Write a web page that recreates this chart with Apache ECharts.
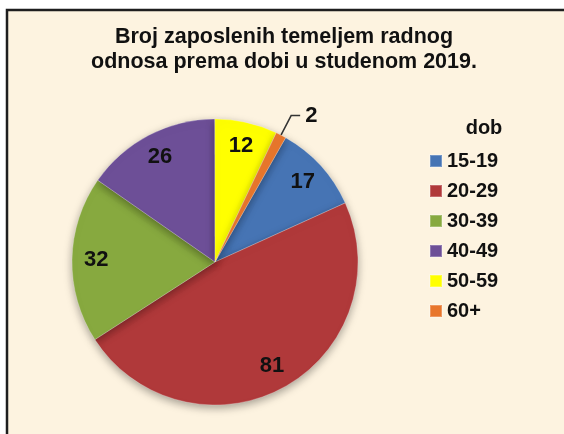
<!DOCTYPE html>
<html>
<head>
<meta charset="utf-8">
<script src="https://cdn.jsdelivr.net/npm/echarts@6/dist/echarts.min.js"></script>
<style>
  html, body { margin: 0; padding: 0; background: #fff; }
  #chart { width: 564px; height: 434px; }
</style>
</head>
<body>
<div id="chart"></div>
<script>
const categories = ['15-19', '20-29', '30-39', '40-49', '50-59', '60+']
const values = [17, 81, 32, 26, 12, 2]
const colors = ['#4674b4', '#b0393a', '#87a93f', '#6d4f97', '#ffff00', '#e8762c']

const font = 'Liberation Sans, Arial, sans-serif'
const cx = 215
const cy = 262
const r = 143

const chart = echarts.init(document.getElementById('chart'))

const pieData = categories.map((name, i) => ({
  name: name,
  value: values[i],
  itemStyle: { color: colors[i] }
}))

// transparent ring only used to place the labels further out
const labelData = categories.map((name, i) => {
  const item = { name: name, value: values[i] }
  if (values[i] < 5) {
    item.label = { position: 'outside' }
    item.labelLine = { show: true, length: 22, length2: 9, lineStyle: { color: '#333', width: 1.5 } }
  }
  return item
})

chart.setOption({
  backgroundColor: '#ffffff',
  color: colors,
  graphic: [
    {
      type: 'rect',
      z: -10,
      shape: { x: 7, y: 10, width: 600, height: 500 },
      style: { fill: '#fdf3e0', stroke: '#1e1e1e', lineWidth: 2.5 }
    }
  ],
  title: [
    {
      text: 'Broj zaposlenih temeljem radnog\nodnosa prema dobi u studenom 2019.',
      left: 284,
      top: 25,
      padding: 0,
      textAlign: 'center',
      textStyle: { fontFamily: font, fontWeight: 'bold', fontSize: 21.5, lineHeight: 25, color: '#111' }
    },
    {
      text: 'dob',
      left: 484,
      top: 118,
      padding: 0,
      textAlign: 'center',
      textStyle: { fontFamily: font, fontWeight: 'bold', fontSize: 20, color: '#111' }
    }
  ],
  legend: {
    orient: 'vertical',
    left: 429,
    top: 151,
    padding: 0,
    icon: 'rect',
    itemWidth: 12,
    itemHeight: 12,
    itemGap: 10,
    data: categories,
    textStyle: { fontFamily: font, fontWeight: 'bold', fontSize: 20, lineHeight: 20, color: '#111' }
  },
  series: [
    {
      type: 'pie',
      center: [cx, cy],
      radius: [0, r],
      startAngle: 60.4,
      clockwise: true,
      silent: true,
      label: { show: false },
      labelLine: { show: false },
      itemStyle: {
        borderColor: 'rgba(255,255,255,0.25)',
        borderWidth: 1,
        shadowBlur: 8,
        shadowOffsetY: 3,
        shadowColor: 'rgba(0,0,0,0.35)'
      },
      data: pieData
    },
    {
      type: 'pie',
      center: [cx, cy],
      radius: [r * 0.62, r],
      startAngle: 60.4,
      clockwise: true,
      silent: true,
      legendHoverLink: false,
      itemStyle: { color: 'rgba(0,0,0,0)' },
      label: {
        show: true,
        position: 'inside',
        formatter: '{c}',
        fontFamily: font,
        fontWeight: 'bold',
        fontSize: 22,
        color: '#111'
      },
      labelLine: { show: false },
      data: labelData
    }
  ]
})
</script>
</body>
</html>
